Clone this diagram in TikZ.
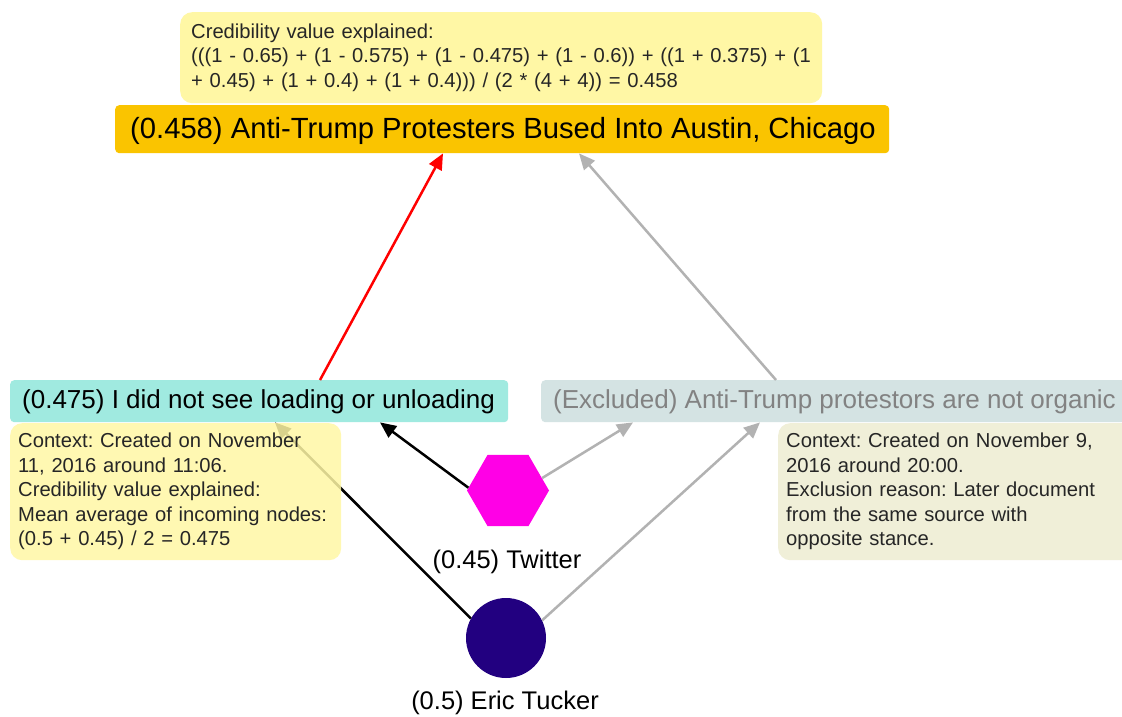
\documentclass[tikz,border=0pt]{standalone}
\usepackage{fontspec}
\setmainfont{Liberation Sans}
\usetikzlibrary{arrows.meta,shapes.geometric,calc}
\frenchspacing

\definecolor{claimgold}{RGB}{250,196,0}
\definecolor{tipyellow}{RGB}{255,247,165}
\definecolor{claimcyan}{RGB}{160,234,224}
\definecolor{exclgray}{RGB}{212,227,227}
\definecolor{exclboxcol}{RGB}{240,239,216}
\definecolor{exctext}{RGB}{130,130,130}
\definecolor{twmagenta}{RGB}{255,0,230}
\definecolor{srcindigo}{RGB}{34,0,128}
\definecolor{edgegray}{RGB}{178,178,178}

\tikzset{
  claimbox/.style={anchor=north west, rounded corners=4pt, inner sep=0pt, draw=none},
  tipbox/.style={anchor=north west, rounded corners=12pt, inner xsep=8pt, inner ysep=0pt,
     align=left, text=black!85, font=\fontsize{20.2}{24.5}\selectfont},
  claimtext/.style={anchor=west, inner sep=0pt},
  srclabel/.style={font=\fontsize{25.5}{28}\selectfont, inner sep=0pt},
  link/.style={line width=2.5pt, -{Triangle[length=16pt,width=14pt]}},
}

\begin{document}
\begin{tikzpicture}[x=1pt,y=-1pt]
\clip (0,0) rectangle (1122,717);
\fill[white] (0,0) rectangle (1122,717);

% claim boxes
\node[claimbox, fill=claimgold, minimum width=774pt, minimum height=48pt] (n0) at (115,105) {};
\node[claimtext, font=\fontsize{29.2}{32}\selectfont] at ([xshift=15pt,yshift=-1.5pt]n0.west) {(0.458) Anti-Trump Protesters Bused Into Austin, Chicago};

\node[claimbox, fill=claimcyan, minimum width=498pt, minimum height=42pt] (n1) at (10,380) {};
\node[claimtext, font=\fontsize{26}{30}\selectfont] at ([xshift=12pt,yshift=-1pt]n1.west) {(0.475) I did not see loading or unloading};

\node[claimbox, fill=exclgray, minimum width=600pt, minimum height=42pt] (n2) at (541,380) {};
\node[claimtext, text=exctext, font=\fontsize{26}{30}\selectfont] at ([xshift=12pt,yshift=-1pt]n2.west) {(Excluded) Anti-Trump protestors are not organic};

% sources
\node[regular polygon, regular polygon sides=6, minimum size=82pt, inner sep=0pt, fill=twmagenta] (hex) at (508,490.5) {};
\node[srclabel] (hexlab) at (507,562) {(0.45) Twitter};

\node[circle, minimum size=80pt, inner sep=0pt, fill=srcindigo] (circ) at (506,638) {};
\node[srclabel] (circlab) at (505,703) {(0.5) Eric Tucker};

% links
\draw[link, red] (n1.north -| 320,0) -- (n0.south -| 443,0);
\draw[link, edgegray] (n2.north -| 776,0) -- (n0.south -| 579,0);
\draw[link, black] (hex.176) -- (n1.south -| 380,0);
\draw[link, edgegray] (hex.20) -- (n2.south -| 633,0);
\draw[link, black] (circ.151) -- (n1.south -| 275,0);
\draw[link, edgegray] (circ.26) -- (n2.south -| 760,0);

% explanations
\node[tipbox, fill=tipyellow, inner xsep=11pt, minimum width=642pt, minimum height=91pt, text width=620pt] (tip0) at (180,12)
  {Credibility value explained:\\
   (((1 - 0.65) + (1 - 0.575) + (1 - 0.475) + (1 - 0.6)) + ((1 + 0.375) + (1\\
   + 0.45) + (1 + 0.4) + (1 + 0.4))) / (2 * (4 + 4)) = 0.458};

\node[tipbox, fill=tipyellow, fill opacity=0.85, text opacity=1, minimum width=331pt, minimum height=137pt, text width=315pt] (tip1) at (10,423)
  {Context: Created on November\\
   11, 2016 around 11:06.\\
   Credibility value explained:\\
   Mean average of incoming nodes:\\
   (0.5 + 0.45) / 2 = 0.475};

\node[tipbox, fill=exclboxcol, minimum width=360pt, minimum height=137pt, text width=344pt] (tip2) at (778,423)
  {Context: Created on November 9,\\
   2016 around 20:00.\\
   Exclusion reason: Later document\\
   from the same source with\\
   opposite stance.};
\end{tikzpicture}
\end{document}
